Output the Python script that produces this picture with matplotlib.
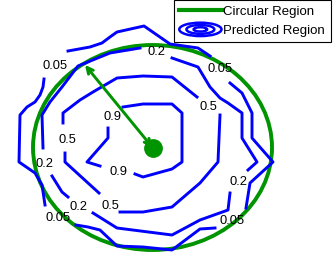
import numpy as np
import matplotlib
matplotlib.use("Agg")
import matplotlib.pyplot as plt
from matplotlib.lines import Line2D
from matplotlib.patches import Ellipse
from matplotlib.legend_handler import HandlerBase

plt.rcParams['font.family'] = ['Liberation Sans', 'DejaVu Sans']

nan = np.nan

# contour polylines (nan = gap left for the inline label)
c005_x = [44, 43, 40, 35, 27, 20, 19, 35, 42, 45, nan, 76, 88, 100, 117, 143, 172, 200, 215, nan,
          246, 250, 273, 252, 252, 242, 230, nan, 210, 198, 170, 144, 117, 110, 102, 90, 68]
c005_y = [79, 87, 95, 102, 107, 115, 162, 173, 185, 205, nan, 225, 227, 230, 246, 247, 250, 229, 228, nan,
          208, 183, 162, 138, 113, 93, 83, nan, 56, 48, 44, 26, 32, 37, 43, 47, 51]

c02_x = [172, 198, 210, 220, 228, 242, 242, 257, 248, nan, 230, 228, 200, 172, 117, 93, nan,
         68, 62, 52, nan, 43, 42, 50, 62, 78, 110, 140]
c02_y = [58, 67, 87, 98, 103, 113, 138, 162, 170, nan, 193, 210, 220, 235, 228, 213, nan,
         197, 192, 176, nan, 148, 115, 102, 87, 66, 53, 48]

c05_x = [63, 63, 80, 93, 117, 143, 172, 197, nan, 220, 218, 200, 172, 143, 120, nan,
         99, 88, 65, 65]
c05_y = [123, 113, 100, 92, 78, 76, 77, 97, nan, 115, 162, 183, 207, 212, 212, nan,
         193, 183, 162, 153]

c09_x = [108, 108, 87, 100, nan, 135, 143, 172, 182, 182, 172, 143, 123]
c09_y = [128, 138, 162, 166, nan, 174, 177, 169, 162, 113, 104, 104, 107]

contours = [(c005_x, c005_y), (c02_x, c02_y), (c05_x, c05_y), (c09_x, c09_y)]

label_text = ['0.05', '0.05', '0.05', '0.05', '0.2', '0.2', '0.2', '0.2',
              '0.5', '0.5', '0.5', '0.9', '0.9']
label_x = [55, 58, 232, 220, 157, 45, 79, 238, 208, 110, 67, 113, 118]
label_y = [66, 218, 221, 69, 52, 164, 207, 182, 107, 206, 140, 117, 172]

# circular region (center, radii) and the radius arrow
center = (152.5, 147.5)
radius_x, radius_y = 119.5, 102.5
arrow_tip = (85, 65)

green = '#009400'
blue = '#0000ff'


class ContourHandler(HandlerBase):
    def create_artists(self, legend, orig_handle, xdescent, ydescent,
                       width, height, fontsize, trans):
        cx = width / 2 - xdescent
        cy = height / 2 - ydescent
        arts = []
        for f in [1.0, 0.66, 0.32]:
            e = Ellipse((cx, cy), width * f, height * 1.45 * f, fill=False,
                        edgecolor=blue, linewidth=1.8, transform=trans)
            arts.append(e)
        return arts


fig = plt.figure(figsize=(3.36, 2.59), dpi=100)
ax = fig.add_axes([0, 0, 1, 1])
ax.set_xlim(0, 336)
ax.set_ylim(259, 0)
ax.axis('off')

for xs, ys in contours:
    ax.plot(xs, ys, color=blue, linewidth=2.1)

for t, x, y in zip(label_text, label_x, label_y):
    ax.text(x, y, t, fontsize=9.3, ha='center', va='center')

circ = Ellipse(center, 2 * radius_x, 2 * radius_y, fill=False,
               edgecolor=green, linewidth=2.8)
ax.add_patch(circ)

ax.annotate('', xy=arrow_tip, xytext=center,
            arrowprops=dict(arrowstyle='<->', color=green, lw=2.1,
                            mutation_scale=11, shrinkA=0, shrinkB=0))
ax.plot(center[0], center[1], 'o', color=green, markersize=12.5)

h1 = Line2D([], [], color=green, linewidth=3)
h2 = object()
leg = fig.legend([h1, h2], ['Circular Region', 'Predicted Region'],
                 handler_map={object: ContourHandler()},
                 loc='upper left', bbox_to_anchor=(174 / 336, 1.0),
                 borderaxespad=0, fontsize=9.5, handlelength=3.2,
                 handletextpad=0.15, borderpad=0.4, labelspacing=0.55,
                 fancybox=False, framealpha=1, edgecolor='black')
leg.get_frame().set_linewidth(0.8)

fig.savefig('out.png', dpi=100)
